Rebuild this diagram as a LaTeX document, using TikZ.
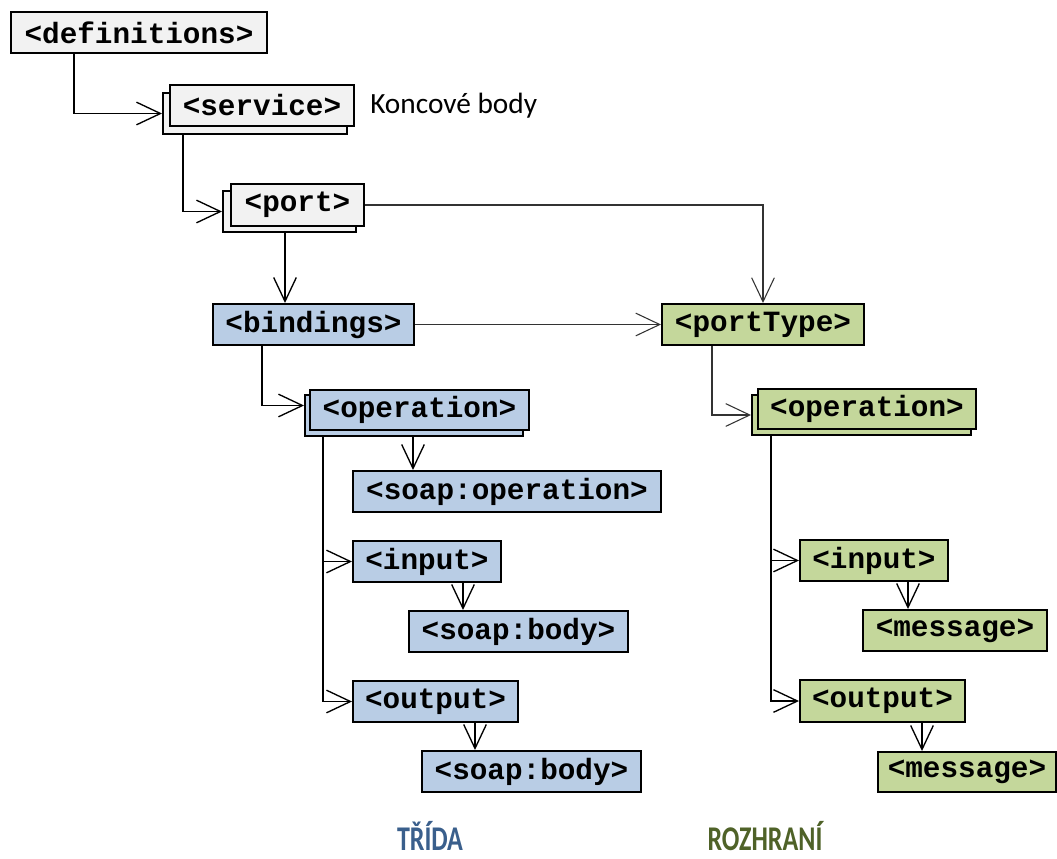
\documentclass[tikz,border=0pt]{standalone}
\usepackage{fontspec}
\usepackage{graphicx}
\setmainfont{Carlito}
\newfontfamily\boxfont{Liberation Mono}
\usetikzlibrary{arrows.meta,calc}
\definecolor{grayfill}{HTML}{F2F2F2}
\definecolor{bluefill}{HTML}{B9CDE5}
\definecolor{greenfill}{HTML}{C4D79B}
\definecolor{bluetext}{HTML}{3A5F8C}
\definecolor{greentext}{HTML}{4F6228}
\newcommand\pbox[7]{\node[#2, minimum width={(#5-#3)*0.75pt}, minimum height={(#6-#4)*0.75pt}, anchor=north west] (#1) at (#3,#4) {#7};}
\newcommand\condensed[1]{\scalebox{0.75}[1]{#1}}
\tikzset{
  tagbox/.style={draw=black, line width=1.5pt, inner sep=0pt, font=\boxfont\bfseries\fontsize{22pt}{26pt}\selectfont},
  graybox/.style={tagbox, fill=grayfill},
  bluebox/.style={tagbox, fill=bluefill},
  greenbox/.style={tagbox, fill=greenfill},
  conn/.style={draw=black, line width=1.4pt, -{Straight Barb[length=18pt,width=17pt,line width=1pt]}},
  thinconn/.style={draw=black!80, line width=0.8pt, -{Straight Barb[length=18pt,width=17pt,line width=0.8pt]}},
  caption/.style={font=\bfseries\fontsize{26pt}{30pt}\selectfont, anchor=base, inner sep=0pt}
}
\begin{document}
\begin{tikzpicture}[x=0.75pt,y=-0.75pt]
\useasboundingbox[fill=white] (0,0) rectangle (1057,858);
% left column
\pbox{defs}{graybox}{10}{11}{266}{52}{<definitions>}
\pbox{serviceB}{graybox}{162}{92}{346}{133}{}
\pbox{service}{graybox}{169}{84}{353}{125}{<service>}
\node[font=\fontsize{22pt}{26pt}\selectfont, anchor=base west, inner sep=0pt] (koncove) at (370,113) {Koncové body};
\pbox{portB}{graybox}{222}{190}{355}{231}{}
\pbox{port}{graybox}{230}{183}{363}{225}{<port>}
\pbox{bindings}{bluebox}{212}{303}{413}{344}{<bindings>}
\pbox{portType}{greenbox}{661}{303}{863}{344}{<portType>}
\pbox{opB}{bluebox}{304}{394}{522}{435}{}
\pbox{op}{bluebox}{309}{389}{528}{429}{<operation>}
\pbox{soapop}{bluebox}{352}{470}{660}{511}{<soap:operation>}
\pbox{input}{bluebox}{352}{540}{500}{581}{<input>}
\pbox{sbodyA}{bluebox}{408}{610}{627}{651}{<soap:body>}
\pbox{output}{bluebox}{352}{680}{517}{721}{<output>}
\pbox{sbodyB}{bluebox}{421}{750}{640}{791}{<soap:body>}
% right column
\pbox{opGB}{greenbox}{751}{394}{970}{434}{}
\pbox{opG}{greenbox}{757}{388}{975}{428}{<operation>}
\pbox{inputG}{greenbox}{799}{539}{947}{580}{<input>}
\pbox{msgA}{greenbox}{862}{609}{1046}{650}{<message>}
\pbox{outputG}{greenbox}{799}{679}{964}{721}{<output>}
\pbox{msgB}{greenbox}{877}{751}{1055}{791}{<message>}
% captions
\node[caption, text=bluetext] (trida) at (430,850) {\condensed{TŘÍDA}};
\node[caption, text=greentext] (rozhrani) at (765,850) {\condensed{ROZHRANÍ}};
% connectors
\draw[conn] ($(defs.south west)+(64,0)$) |- (serviceB.west);
\draw[conn] ($(serviceB.south west)+(21,0)$) |- (portB.west);
\draw[conn] ($(portB.south west)+(63,0)$) coordinate (pb) -- (pb |- bindings.north);
\draw[thinconn] (port.east) -| (portType.north);
\draw[thinconn] (bindings.east) -- (portType.west);
\draw[conn] ($(bindings.south west)+(50,0)$) |- ($(opB.west)+(0,-10)$);
\draw[conn] ($(opB.south west)+(109,0)$) coordinate (ob) -- (ob |- soapop.north);
\draw[conn] ($(opB.south west)+(19,0)$) coordinate (ov) |- (input.west);
\draw[conn] (ov) |- (output.west);
\draw[conn] ($(input.south west)+(111,0)$) coordinate (ib) -- (ib |- sbodyA.north);
\draw[conn] ($(output.south west)+(123,0)$) coordinate (ub) -- (ub |- sbodyB.north);
\draw[thinconn] ($(portType.south west)+(51,0)$) |- (opGB.west);
\draw[conn] ($(opGB.south west)+(20,0)$) coordinate (gv) |- (inputG.west);
\draw[conn] (gv) |- (outputG.west);
\draw[conn] ($(inputG.south west)+(109,0)$) coordinate (gi) -- (gi |- msgA.north);
\draw[conn] ($(outputG.south west)+(123,0)$) coordinate (go) -- (go |- msgB.north);
\end{tikzpicture}
\end{document}
